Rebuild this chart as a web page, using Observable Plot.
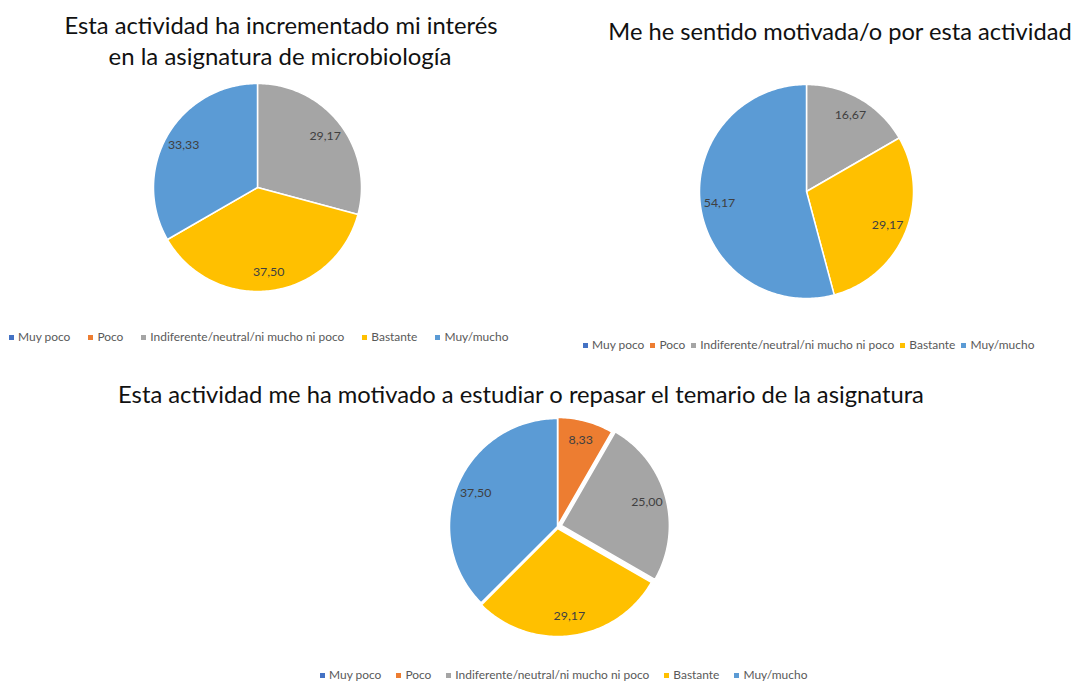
<!DOCTYPE html>
<html><head><meta charset="utf-8">
<script src="https://cdn.jsdelivr.net/npm/d3@7"></script>
<script src="https://cdn.jsdelivr.net/npm/@observablehq/plot@0.6"></script>
<style>
html,body{margin:0;padding:0;background:#fff;}
#root{position:relative;width:1076px;height:681px;overflow:hidden;font-family:Lato,"Open Sans",sans-serif;background:#fff;}
.abs{position:absolute;white-space:nowrap;}
.leg{position:absolute;display:flex;align-items:center;white-space:nowrap;color:#595959;}
.leg .sw{display:inline-block;width:5px;height:5px;margin-right:4px;}
</style></head><body><div id="root"></div>
<script>
// ---- data ----
const categories = ["Muy poco", "Poco", "Indiferente/neutral/ni mucho ni poco", "Bastante", "Muy/mucho"];
const colors = ["#4472C4", "#ED7D31", "#A5A5A5", "#FFC000", "#5B9BD5"];
const titleInteres = ["Esta actividad ha incrementado mi interés", "en la asignatura de microbiología"];
const titleMotivada = ["Me he sentido motivada/o por esta actividad"];
const titleEstudiar = ["Esta actividad me ha motivado a estudiar o repasar el temario de la asignatura"];
const interes = [0, 0, 29.17, 37.50, 33.33];
const motivada = [0, 0, 16.67, 29.17, 54.17];
const estudiar = [0, 8.33, 25.00, 29.17, 37.50];

// ---- layout (pixels) ----
const FONT = "Lato";
const charts = [
  {values: interes, title: titleInteres, cx: 257, cy: 187, r: 104, explode: [0,0,0,0,0], sw: 1.5,
   titleX: [281, 280], titleBase: [34, 65], titleW: [433, 343],
   legX: 9, legY: 337, legGap: 18},
  {values: motivada, title: titleMotivada, cx: 806, cy: 191, r: 107, explode: [0,0,0,0,0], sw: 1.5,
   titleX: [840], titleBase: [40], titleW: [464],
   legX: 583, legY: 345, legGap: 6},
  {values: estudiar, title: titleEstudiar, cx: 557, cy: 526, r: 108, explode: [0,1,4,2,0], sw: 1.5,
   titleX: [521], titleBase: [403], titleW: [807],
   legX: 320, legY: 675, legGap: 15}
];

const root = document.getElementById("root");
const ctx = document.createElement("canvas").getContext("2d");
function fitSize(text, target) {
  ctx.font = `100px ${FONT}`;
  return 100 * target / ctx.measureText(text).width;
}
function metrics(size) {
  ctx.font = `${size}px ${FONT}`;
  const m = ctx.measureText("Hg");
  return {a: m.fontBoundingBoxAscent, d: m.fontBoundingBoxDescent};
}
const fmt = v => v.toFixed(2).replace(".", ",");
const labelSize = fitSize("29,17", 31.5);
const legendSize = fitSize(categories[2], 194);

function pie(c) {
  const pad = 8, s = c.r + pad;
  const arcs = d3.pie().sort(null).value(d => d)(c.values);
  const poly = [], labels = [];
  arcs.forEach((a, i) => {
    if (a.value <= 0) return;
    const mid = (a.startAngle + a.endAngle) / 2;
    const ox = c.explode[i] * Math.sin(mid), oy = c.explode[i] * Math.cos(mid);
    const n = Math.max(2, Math.ceil((a.endAngle - a.startAngle) / (Math.PI / 180)));
    poly.push({cat: categories[i], x: ox, y: oy});
    for (let k = 0; k <= n; k++) {
      const t = a.startAngle + (a.endAngle - a.startAngle) * k / n;
      poly.push({cat: categories[i], x: ox + c.r * Math.sin(t), y: oy + c.r * Math.cos(t)});
    }
    labels.push({text: fmt(a.value), x: ox + 0.82 * c.r * Math.sin(mid), y: oy + 0.82 * c.r * Math.cos(mid)});
  });
  const svg = Plot.plot({
    width: 2 * s, height: 2 * s, margin: 0,
    style: {background: "transparent", overflow: "visible"},
    x: {domain: [-s, s], axis: null},
    y: {domain: [-s, s], axis: null},
    color: {domain: categories, range: colors},
    marks: [
      Plot.line(poly, {x: "x", y: "y", z: "cat", fill: "cat", stroke: "white", strokeWidth: c.sw, curve: "linear-closed"}),
      Plot.text(labels, {x: "x", y: "y", text: "text", fill: "#404040", fontSize: labelSize, fontFamily: FONT})
    ]
  });
  svg.style.position = "absolute";
  svg.style.left = (c.cx - s) + "px";
  svg.style.top = (c.cy - s) + "px";
  root.appendChild(svg);
}

function title(c) {
  c.title.forEach((line, j) => {
    const f = fitSize(line, c.titleW[j]);
    const m = metrics(f);
    const div = document.createElement("div");
    div.className = "abs";
    div.textContent = line;
    div.style.fontSize = f + "px";
    div.style.lineHeight = (m.a + m.d) + "px";
    div.style.color = "#111";
    div.style.left = c.titleX[j] + "px";
    div.style.transform = "translateX(-50%)";
    div.style.top = (c.titleBase[j] - m.a) + "px";
    root.appendChild(div);
  });
}

function legend(c) {
  const div = document.createElement("div");
  div.className = "leg";
  const lh = Math.round(legendSize * 1.3);
  div.style.fontSize = legendSize + "px";
  div.style.lineHeight = lh + "px";
  div.style.left = c.legX + "px";
  div.style.top = (c.legY - lh / 2) + "px";
  categories.forEach((cat, i) => {
    const item = document.createElement("span");
    item.style.display = "inline-flex";
    item.style.alignItems = "center";
    if (i > 0) item.style.marginLeft = c.legGap + "px";
    const sw = document.createElement("span");
    sw.className = "sw";
    sw.style.background = colors[i];
    const tx = document.createElement("span");
    tx.textContent = cat;
    item.appendChild(sw); item.appendChild(tx);
    div.appendChild(item);
  });
  root.appendChild(div);
}

charts.forEach(c => { pie(c); title(c); legend(c); });
</script></body></html>
